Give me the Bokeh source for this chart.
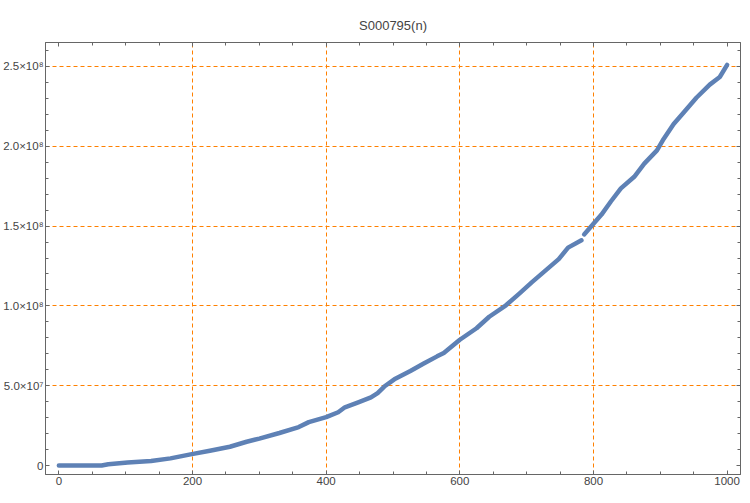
from bokeh.plotting import figure
from bokeh.models import Range1d, LinearAxis, FixedTicker, CustomJSTickFormatter
from bokeh.embed import file_html
from bokeh.resources import INLINE

# values
n_vals = [0, 30, 64, 74, 103, 138, 167, 197, 226, 256, 281, 300, 330, 359, 374,
          400, 418, 428, 448, 467, 477, 487, 502, 526, 546, 566, 576, 600, 625,
          644, 669, 689, 708, 728, 748, 762, 782, 786, 799, 812, 826, 841, 861,
          876, 895, 905, 920, 935, 954, 974, 989, 1000]
s_vals = [0.0, 0.0, 0.0, 0.8e6, 1.9e6, 2.8e6, 4.5e6, 7.0e6, 9.3e6, 11.8e6, 14.9e6,
          16.9e6, 20.4e6, 24.1e6, 27.2e6, 30.3e6, 33.4e6, 36.5e6, 39.6e6, 42.7e6,
          45.4e6, 49.5e6, 54.0e6, 59.2e6, 63.9e6, 68.4e6, 70.5e6, 78.8e6, 86.0e6,
          93.2e6, 100.4e6, 107.7e6, 114.9e6, 122.1e6, 129.3e6, 136.5e6, 141.1e6,
          144.8e6, 151.0e6, 157.2e6, 165.4e6, 173.6e6, 180.9e6, 189.1e6, 197.4e6,
          204.6e6, 213.9e6, 221.1e6, 230.4e6, 238.6e6, 243.4e6, 251.0e6]

x_ticks = [0, 200, 400, 600, 800, 1000]
x_minor = list(range(0, 1001, 50))
y_ticks = [0, 50000000, 100000000, 150000000, 200000000, 250000000]
y_labels = ["0", "5.0×10⁷", "1.0×10⁸", "1.5×10⁸", "2.0×10⁸", "2.5×10⁸"]
y_minor = list(range(0, 260000001, 10000000))
grid_x = [200, 400, 600, 800]
grid_y = [50000000, 100000000, 150000000, 200000000, 250000000]

FONT = "Liberation Sans"
FRAME = "#666666"
TXT = "#444444"
BLUE = "#5E81B5"
ORANGE = "#FF8000"

p = figure(width=742, height=487, output_backend="svg", toolbar_location=None,
           x_range=Range1d(-20, 1020), y_range=Range1d(-5.6e6, 2.65e8),
           min_border_left=40, min_border_right=2, min_border_top=42,
           min_border_bottom=12, title="S000795(n)")
p.background_fill_color = "white"
p.border_fill_color = "white"
p.outline_line_color = FRAME
p.outline_line_width = 1

p.title.align = "center"
p.title.text_font = FONT
p.title.text_font_size = "13px"
p.title.text_font_style = "normal"
p.title.text_color = TXT
p.title.standoff = 20

def style_axis(ax, labels=True):
    ax.axis_line_color = FRAME
    ax.major_tick_line_color = FRAME
    ax.minor_tick_line_color = FRAME
    ax.major_tick_in = 4
    ax.major_tick_out = 0
    ax.minor_tick_in = 3
    ax.minor_tick_out = 0
    ax.major_label_text_font = FONT
    ax.major_label_text_font_size = "11.5px"
    ax.major_label_text_color = TXT
    ax.major_label_standoff = 2
    if not labels:
        ax.formatter = CustomJSTickFormatter(code="return '';")
        ax.major_label_standoff = 0

xb = p.xaxis[0]
xb.ticker = FixedTicker(ticks=x_ticks, minor_ticks=x_minor)
style_axis(xb)
yl = p.yaxis[0]
yl.ticker = FixedTicker(ticks=y_ticks, minor_ticks=y_minor)
yl.major_label_overrides = {t: s for t, s in zip(y_ticks, y_labels)}
style_axis(yl)

xt = LinearAxis(ticker=FixedTicker(ticks=x_ticks, minor_ticks=x_minor))
style_axis(xt, labels=False)
p.add_layout(xt, "above")
yr = LinearAxis(ticker=FixedTicker(ticks=y_ticks, minor_ticks=y_minor))
style_axis(yr, labels=False)
p.add_layout(yr, "right")

p.xgrid.ticker = FixedTicker(ticks=grid_x)
p.ygrid.ticker = FixedTicker(ticks=grid_y)
for g in (p.xgrid, p.ygrid):
    g.grid_line_color = ORANGE
    g.grid_line_dash = "4 3"
    g.grid_line_width = 1

# the curve has a small gap between n=782 and n=786
seg1 = [(n, s) for n, s in zip(n_vals, s_vals) if n <= 782]
seg2 = [(n, s) for n, s in zip(n_vals, s_vals) if n >= 786]
for seg in (seg1, seg2):
    p.line([a for a, b in seg], [b for a, b in seg], line_color=BLUE,
           line_width=4.5, line_cap="round", line_join="round")

open("out.html", "w").write(file_html(p, INLINE))
